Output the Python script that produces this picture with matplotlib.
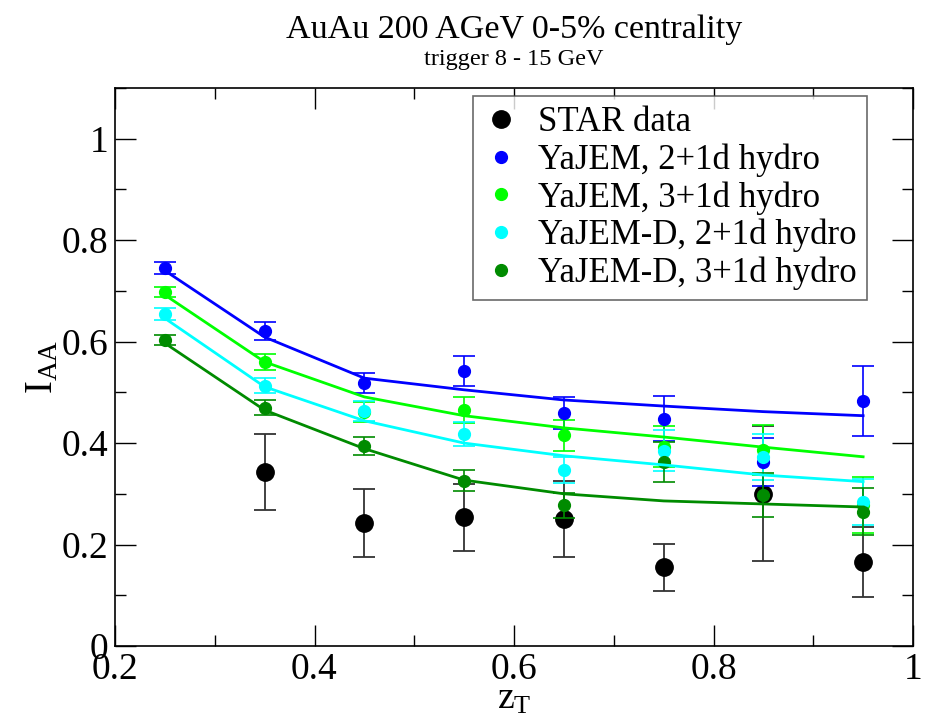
import numpy as np
import matplotlib
matplotlib.use("Agg")
import matplotlib.pyplot as plt
from matplotlib.ticker import MultipleLocator
from matplotlib.lines import Line2D

plt.rcParams['font.family'] = ['Liberation Serif', 'DejaVu Serif']
plt.rcParams['mathtext.fontset'] = 'stix'

# STAR data
star_z = [0.35, 0.45, 0.55, 0.65, 0.75, 0.85, 0.95]
star_i = [0.343, 0.243, 0.254, 0.250, 0.155, 0.300, 0.166]
star_err = [0.074, 0.067, 0.066, 0.075, 0.046, 0.133, 0.069]

zt = [0.25, 0.35, 0.45, 0.55, 0.65, 0.75, 0.85, 0.95]

# model points
yajem_21 = [0.745, 0.621, 0.519, 0.542, 0.459, 0.448, 0.363, 0.483]
yajem_21_err = [0.012, 0.017, 0.020, 0.029, 0.032, 0.044, 0.048, 0.069]
yajem_31 = [0.698, 0.560, 0.461, 0.465, 0.415, 0.393, 0.387, 0.278]
yajem_31_err = [0.010, 0.016, 0.020, 0.026, 0.031, 0.040, 0.049, 0.056]
yajemd_21 = [0.655, 0.513, 0.463, 0.418, 0.347, 0.385, 0.373, 0.284]
yajemd_21_err = [0.012, 0.015, 0.020, 0.024, 0.026, 0.040, 0.045, 0.046]
yajemd_31 = [0.603, 0.470, 0.394, 0.326, 0.277, 0.363, 0.298, 0.265]
yajemd_31_err = [0.010, 0.014, 0.018, 0.020, 0.025, 0.040, 0.043, 0.047]

# model curves
line_21 = [0.740, 0.609, 0.528, 0.505, 0.485, 0.473, 0.462, 0.454]
line_31 = [0.692, 0.560, 0.491, 0.454, 0.430, 0.412, 0.392, 0.373]
lined_21 = [0.646, 0.511, 0.444, 0.400, 0.375, 0.357, 0.337, 0.324]
lined_31 = [0.597, 0.465, 0.389, 0.327, 0.300, 0.286, 0.280, 0.274]

labels = ["YaJEM, 2+1d hydro", "YaJEM, 3+1d hydro",
          "YaJEM-D, 2+1d hydro", "YaJEM-D, 3+1d hydro"]
colors = ["#0000ff", "#00ff00", "#00ffff", "#008b00"]

xticks = [0.2, 0.4, 0.6, 0.8, 1.0]
xtick_labels = ['0.2', '0.4', '0.6', '0.8', '1']
yticks = [0, 0.2, 0.4, 0.6, 0.8, 1.0]
ytick_labels = ['0', '0.2', '0.4', '0.6', '0.8', '1']

fig = plt.figure(figsize=(9.26, 7.18), dpi=100)
ax = fig.add_axes([115/926, 72/718, 798/926, 558/718])

ax.errorbar(star_z, star_i, yerr=star_err, fmt='o', color='black', ms=12.5,
            ecolor='#333333', elinewidth=1.3, capsize=8, capthick=1.3, zorder=3)

pts = [(yajem_21, yajem_21_err), (yajem_31, yajem_31_err),
       (yajemd_21, yajemd_21_err), (yajemd_31, yajemd_31_err)]
for (y, e), c in zip(pts, colors):
    ax.errorbar(zt, y, yerr=e, fmt='o', color=c, ms=8.5, elinewidth=1.2,
                capsize=8, capthick=1.2, zorder=4)

for y, c in zip([line_21, line_31, lined_21, lined_31], colors):
    ax.plot(zt, y, '-', color=c, lw=2, zorder=5)

ax.set_xlim(0.2, 1.0)
ax.set_ylim(0, 1.1)
ax.set_xticks(xticks)
ax.set_xticklabels(xtick_labels)
ax.set_yticks(yticks)
ax.set_yticklabels(ytick_labels)
ax.xaxis.set_minor_locator(MultipleLocator(0.1))
ax.yaxis.set_minor_locator(MultipleLocator(0.1))
ax.tick_params(which='both', direction='in', top=True, right=True, labelsize=27, width=1)
ax.tick_params(which='major', length=15, pad=5)
ax.tick_params(which='minor', length=8)
for s in ax.spines.values():
    s.set_linewidth(1.2)

ax.set_xlabel(r'$\mathregular{z_T}$', fontsize=27, labelpad=-3.5)
ax.set_ylabel(r'$\mathregular{I_{AA}}$', fontsize=28, labelpad=0)

xc = (115 + 798 / 2) / 926
fig.text(xc, 0.947, "AuAu 200 AGeV 0-5% centrality", ha='center', va='baseline', fontsize=24.5)
fig.text(xc, 0.909, "trigger 8 - 15 GeV", ha='center', va='baseline', fontsize=17.5)

handles = [Line2D([], [], ls='none', marker='o', color='black', ms=12.5)]
handles += [Line2D([], [], ls='none', marker='o', color=c, ms=8.5) for c in colors]
leg = ax.legend(handles, ["STAR data"] + labels, loc='upper right',
                bbox_to_anchor=(0.942, 0.986), fontsize=25,
                frameon=True, fancybox=False, handlelength=1.0, handletextpad=0.55,
                labelspacing=0.12, borderpad=0.3, borderaxespad=0)
leg.get_frame().set_edgecolor('#444444')
leg.get_frame().set_linewidth(1.2)

fig.savefig("out.png", dpi=100)
